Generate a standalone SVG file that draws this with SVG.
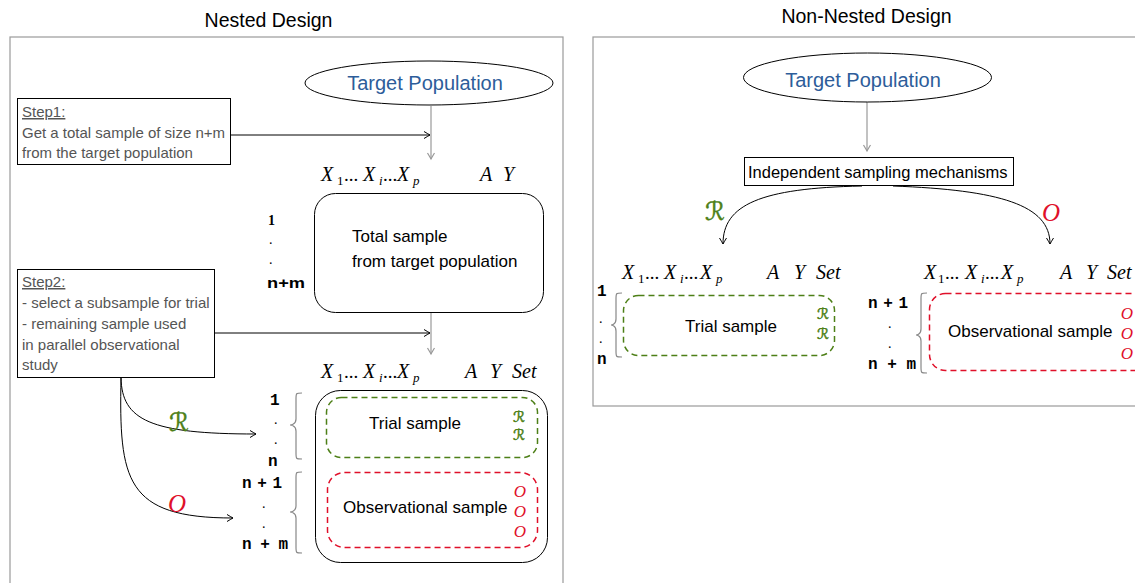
<svg xmlns="http://www.w3.org/2000/svg" width="1135" height="583" viewBox="0 0 1135 583">
<style>
.title{font-family:"Liberation Sans",Arial,sans-serif;font-size:19.5px;fill:#000}
.frame{fill:none;stroke:#9a9a9a;stroke-width:1.2}
.tp{font-family:"Liberation Sans",Arial,sans-serif;font-size:20px;fill:#2d5d9a;text-anchor:middle}
.ell{fill:#fff;stroke:#000;stroke-width:1}
.step{fill:#fff;stroke:#000;stroke-width:1}
.st{font-family:"Liberation Sans",Arial,sans-serif;font-size:15px;fill:#555}
.lbl{font-family:"Liberation Sans",Arial,sans-serif;font-size:17px;fill:#000}
.box{fill:#fff;stroke:#000;stroke-width:1}
.gbox{fill:none;stroke:#4d7f17;stroke-width:1.5;stroke-dasharray:6 4}
.rbox{fill:none;stroke:#e0102a;stroke-width:1.5;stroke-dasharray:6 4}
.m{font-family:"Liberation Serif","Times New Roman",serif;font-size:20px;font-style:italic;fill:#000}
.mu{font-family:"Liberation Serif","Times New Roman",serif;font-size:19px;fill:#000}
.sub{font-family:"Liberation Serif","Times New Roman",serif;font-size:13px;fill:#000}
.row{font-family:"Liberation Mono","Courier New",monospace;font-size:16px;font-weight:bold;fill:#000}
.dot{font-family:"Liberation Serif",serif;font-size:14px;fill:#000}
.brace{fill:none;stroke:#888;stroke-width:1.2}
.gR{font-family:"DejaVu Serif","DejaVu Sans",serif;fill:#4d7f17;stroke:#4d7f17;stroke-width:0.5;text-anchor:middle}
.rO{font-family:"Liberation Serif",serif;font-style:italic;fill:#e0102a;text-anchor:middle}
.conn{fill:none;stroke:#000;stroke-width:1}
.gconn{fill:none;stroke:#999;stroke-width:1.2}
</style>
<defs>
<marker id="ah" markerWidth="10" markerHeight="10" refX="0" refY="0" viewBox="-7 -5 8 10" orient="auto" markerUnits="userSpaceOnUse">
<path d="M-6,-3.5 Q-1.5,-0.8 0,0 Q-1.5,0.8 -6,3.5" fill="none" stroke="#000" stroke-width="1"/>
</marker>
<marker id="ahg" markerWidth="10" markerHeight="10" refX="0" refY="0" viewBox="-7 -5 8 10" orient="auto" markerUnits="userSpaceOnUse">
<path d="M-6,-3.5 Q-1.5,-0.8 0,0 Q-1.5,0.8 -6,3.5" fill="none" stroke="#999" stroke-width="1.2"/>
</marker>
</defs>

<!-- panels -->
<g id="panel-nested">
<rect class="frame" x="10" y="37" width="553" height="600"/>
<text class="title" x="268.5" y="27" text-anchor="middle">Nested Design</text>
</g>
<g id="panel-nonnested">
<rect class="frame" x="593" y="37" width="600" height="369"/>
<text class="title" x="866.5" y="23" text-anchor="middle">Non-Nested Design</text>
</g>

<!-- connectors -->
<g id="connectors">
<path class="gconn" d="M431,106 L431,159" marker-end="url(#ahg)"/>
<path class="conn" d="M231,135 L430,135" marker-end="url(#ah)"/>
<path class="gconn" d="M431,313 L431,354" marker-end="url(#ahg)"/>
<path class="conn" d="M215,333 L430,333" marker-end="url(#ah)"/>
<path class="conn" d="M121,378 C122,420 150,434 256,434" marker-end="url(#ah)"/>
<path class="conn" d="M121,378 C119,480 125,518 233,518" marker-end="url(#ah)"/>
<path class="gconn" d="M867,102 L867,151" marker-end="url(#ahg)"/>
<path class="conn" d="M862,186 C760,188 723,205 723,244" marker-end="url(#ah)"/>
<path class="conn" d="M893,186 C1000,190 1050,205 1050,244" marker-end="url(#ah)"/>
<text class="gR" x="179" y="431" font-size="25">ℛ</text>
<text class="rO" x="177" y="512" font-size="25">O</text>
<text class="gR" x="715" y="220" font-size="25">ℛ</text>
<text class="rO" x="1051" y="221" font-size="25">O</text>
</g>

<!-- nested design nodes -->
<g id="target-left">
<ellipse class="ell" cx="429" cy="83" rx="124" ry="22"/>
<text class="tp" x="425" y="90">Target Population</text>
</g>
<g id="step1">
<rect class="step" x="17.5" y="98.5" width="213" height="66"/>
<text class="st" x="22" y="117" text-decoration="underline">Step1:</text>
<text class="st" x="22" y="137.5">Get a total sample of size n+m</text>
<text class="st" x="22" y="158">from the target population</text>
</g>
<g id="step2">
<rect class="step" x="17.5" y="269.5" width="197" height="108"/>
<text class="st" x="22" y="287" text-decoration="underline">Step2:</text>
<text class="st" x="22" y="307.5">- select a subsample for trial</text>
<text class="st" x="22" y="328.5">- remaining sample used</text>
<text class="st" x="22" y="349.5">in parallel observational</text>
<text class="st" x="22" y="370">study</text>
</g>
<g id="total-sample">
<text class="m" x="321" y="181">X</text><text class="sub" x="337" y="185">1</text><text class="mu" x="344" y="181">...</text>
<text class="m" x="363" y="181">X</text><text class="sub" x="379" y="185" font-style="italic">i</text><text class="mu" x="383" y="181">...</text>
<text class="m" x="397" y="181">X</text><text class="sub" x="413" y="185" font-style="italic">p</text>
<text class="m" x="480" y="181">A</text><text class="m" x="503" y="181">Y</text>
<text x="268" y="225" font-family="Liberation Serif,serif" font-weight="bold" font-size="14">1</text>
<text class="dot" x="269" y="244">.</text>
<text class="dot" x="269" y="264">.</text>
<text x="267" y="288" font-family="Liberation Sans,Arial,sans-serif" font-weight="bold" font-size="14" textLength="38" lengthAdjust="spacingAndGlyphs">n+m</text>
<rect class="box" x="314.5" y="193.5" width="229" height="119" rx="21"/>
<text class="lbl" x="352" y="242">Total sample</text>
<text class="lbl" x="352" y="266.5">from target population</text>
</g>
<g id="split-sample">
<text class="m" x="321" y="378">X</text><text class="sub" x="337" y="382">1</text><text class="mu" x="344" y="378">...</text>
<text class="m" x="363" y="378">X</text><text class="sub" x="379" y="382" font-style="italic">i</text><text class="mu" x="383" y="378">...</text>
<text class="m" x="397" y="378">X</text><text class="sub" x="413" y="382" font-style="italic">p</text>
<text class="m" x="465" y="378">A</text><text class="m" x="490" y="378">Y</text><text class="m" x="512" y="378">Set</text>
<text class="row" x="270" y="405">1</text>
<text class="dot" x="274" y="424">.</text>
<text class="dot" x="274" y="444">.</text>
<text class="row" x="268" y="466">n</text>
<text class="row" x="242" y="488" textLength="40" lengthAdjust="spacing">n + 1</text>
<text class="dot" x="262" y="508">.</text>
<text class="dot" x="262" y="528">.</text>
<text class="row" x="242" y="549" textLength="46" lengthAdjust="spacing">n + m</text>
<path class="brace" d="M302,393 C296,393 296,393 296,399 L296,419 C296,425 290,425 290,425 C290,425 296,425 296,431 L296,453 C296,459 296,459 302,459"/>
<path class="brace" d="M302,472 C296,472 296,472 296,478 L296,506 C296,512 290,512 290,512 C290,512 296,512 296,518 L296,547 C296,553 296,553 302,553"/>
<rect class="box" x="315.5" y="390.5" width="232" height="172" rx="25"/>
<rect class="gbox" x="326.5" y="397.5" width="211" height="60" rx="15"/>
<text class="lbl" x="369" y="429">Trial sample</text>
<text class="gR" x="519" y="422" font-size="15" stroke-width="0.25">ℛ</text>
<text class="gR" x="519" y="440" font-size="15" stroke-width="0.25">ℛ</text>
<rect class="rbox" x="327.5" y="472.5" width="210" height="75" rx="17"/>
<text class="lbl" x="343" y="513">Observational sample</text>
<text class="rO" x="520" y="497" font-size="17">O</text>
<text class="rO" x="520" y="517" font-size="17">O</text>
<text class="rO" x="520" y="537" font-size="17">O</text>
</g>

<!-- non-nested design nodes -->
<g id="target-right">
<ellipse class="ell" cx="867.5" cy="77.5" rx="124" ry="24.5"/>
<text class="tp" x="863" y="87">Target Population</text>
</g>
<g id="mechanisms">
<rect class="step" x="744.5" y="157.5" width="269" height="28"/>
<text x="748" y="178" font-family="Liberation Sans,Arial,sans-serif" font-size="16.5" fill="#000">Independent sampling mechanisms</text>
</g>
<g id="trial-right">
<text class="m" x="622" y="279">X</text><text class="sub" x="638" y="283">1</text><text class="mu" x="645" y="279">...</text>
<text class="m" x="664" y="279">X</text><text class="sub" x="680" y="283" font-style="italic">i</text><text class="mu" x="684" y="279">...</text>
<text class="m" x="700" y="279">X</text><text class="sub" x="716" y="283" font-style="italic">p</text>
<text class="m" x="767" y="279">A</text><text class="m" x="794" y="279">Y</text><text class="m" x="816" y="279">Set</text>
<text class="row" x="597" y="296">1</text>
<text class="dot" x="599" y="323">.</text>
<text class="dot" x="599" y="343">.</text>
<text class="row" x="597" y="364">n</text>
<path class="brace" d="M622,293 C616,293 616,293 616,299 L616,319 C616,325 611,325 611,325 C611,325 616,325 616,331 L616,351 C616,357 616,357 622,357"/>
<rect class="gbox" x="623.5" y="295.5" width="211" height="60" rx="15"/>
<text class="lbl" x="685" y="332">Trial sample</text>
<text class="gR" x="823" y="319" font-size="15" stroke-width="0.25">ℛ</text>
<text class="gR" x="823" y="339" font-size="15" stroke-width="0.25">ℛ</text>
</g>
<g id="obs-right">
<text class="m" x="924" y="279">X</text><text class="sub" x="938" y="283">1</text><text class="mu" x="945" y="279">...</text>
<text class="m" x="965" y="279">X</text><text class="sub" x="981" y="283" font-style="italic">i</text><text class="mu" x="985" y="279">...</text>
<text class="m" x="1001" y="279">X</text><text class="sub" x="1017" y="283" font-style="italic">p</text>
<text class="m" x="1060" y="279">A</text><text class="m" x="1086" y="279">Y</text><text class="m" x="1107" y="279">Set</text>
<text class="row" x="868" y="308" textLength="40" lengthAdjust="spacing">n + 1</text>
<text class="dot" x="888" y="328">.</text>
<text class="dot" x="888" y="348">.</text>
<text class="row" x="868" y="369" textLength="48" lengthAdjust="spacing">n + m</text>
<path class="brace" d="M927,293 C921,293 921,293 921,299 L921,329 C921,335 916,335 916,335 C916,335 921,335 921,341 L921,367 C921,373 921,373 927,373"/>
<rect class="rbox" x="929.5" y="293.5" width="220" height="77" rx="16"/>
<text class="lbl" x="948" y="337">Observational sample</text>
<text class="rO" x="1127" y="319" font-size="17">O</text>
<text class="rO" x="1127" y="339" font-size="17">O</text>
<text class="rO" x="1127" y="359" font-size="17">O</text>
</g>
</svg>
